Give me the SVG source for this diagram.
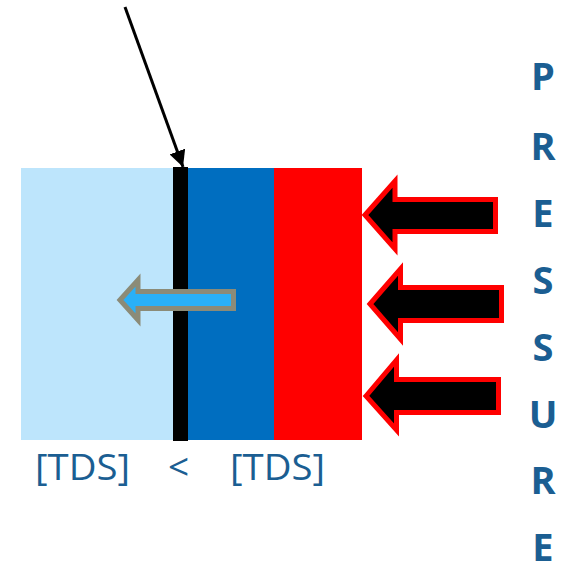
<svg xmlns="http://www.w3.org/2000/svg" width="563" height="574" viewBox="0 0 563 574">
  <style>
    .lbl { font-family: "Open Sans", "Liberation Sans", sans-serif; font-size: 37px; fill: #1B5E92; }
    .press { font-family: "Open Sans", "Liberation Sans", sans-serif; font-size: 38px; font-weight: bold; fill: #1B5E92; text-anchor: middle; }
    .push { fill: #000000; stroke: #FF0000; stroke-width: 5; stroke-linejoin: miter; }
    .flow { fill: #29B0F8; stroke: #8B8B78; stroke-width: 5; stroke-linejoin: miter; }
  </style>
  <defs>
    <marker id="tip" viewBox="0 0 10 10" refX="10" refY="5" markerWidth="5.5" markerHeight="5.5" orient="auto" markerUnits="strokeWidth">
      <path d="M0,0 L10,5 L0,10 z" fill="#000"/>
    </marker>
  </defs>

  <g id="dilute-side"><rect x="21" y="168" width="153" height="272" fill="#BDE5FC"/></g>
  <g id="concentrate-side"><rect x="187" y="168" width="88" height="272" fill="#006EC0"/></g>
  <g id="pressure-zone"><rect x="274" y="168" width="88" height="272" fill="#FF0000"/></g>
  <g id="membrane"><rect x="173" y="167" width="15" height="274" fill="#000000"/></g>

  <g id="connectors">
    <line x1="125" y1="7" x2="183" y2="167" stroke="#000" stroke-width="3" marker-end="url(#tip)"/>
  </g>

  <g id="water-flow">
    <path class="flow" d="M120,300 L138,280 L138,291.5 L233.5,291.5 L233.5,308.5 L138,308.5 L138,320 Z"/>
  </g>

  <g id="push-arrows">
    <path class="push" d="M365,215 L395,181 L395,199.5 L495.5,199.5 L495.5,231.5 L395,231.5 L395,249 Z"/>
    <path class="push" d="M370,304 L400.5,269 L400.5,287.5 L501.5,287.5 L501.5,320.5 L400.5,320.5 L400.5,339 Z"/>
    <path class="push" d="M366,396 L396.5,360 L396.5,379.5 L498.5,379.5 L498.5,412.5 L396.5,412.5 L396.5,430 Z"/>
  </g>

  <g id="tds-labels">
    <text class="lbl" x="35" y="480" textLength="95" lengthAdjust="spacingAndGlyphs">[TDS]</text>
    <text class="lbl" x="168" y="480">&lt;</text>
    <text class="lbl" x="230" y="480" textLength="95" lengthAdjust="spacingAndGlyphs">[TDS]</text>
  </g>

  <g id="pressure-label">
    <text class="press" x="543" y="90">P</text>
    <text class="press" x="543" y="160">R</text>
    <text class="press" x="543" y="227">E</text>
    <text class="press" x="543" y="294">S</text>
    <text class="press" x="543" y="361">S</text>
    <text class="press" x="543" y="428">U</text>
    <text class="press" x="543" y="494">R</text>
    <text class="press" x="543" y="561">E</text>
  </g>
</svg>
